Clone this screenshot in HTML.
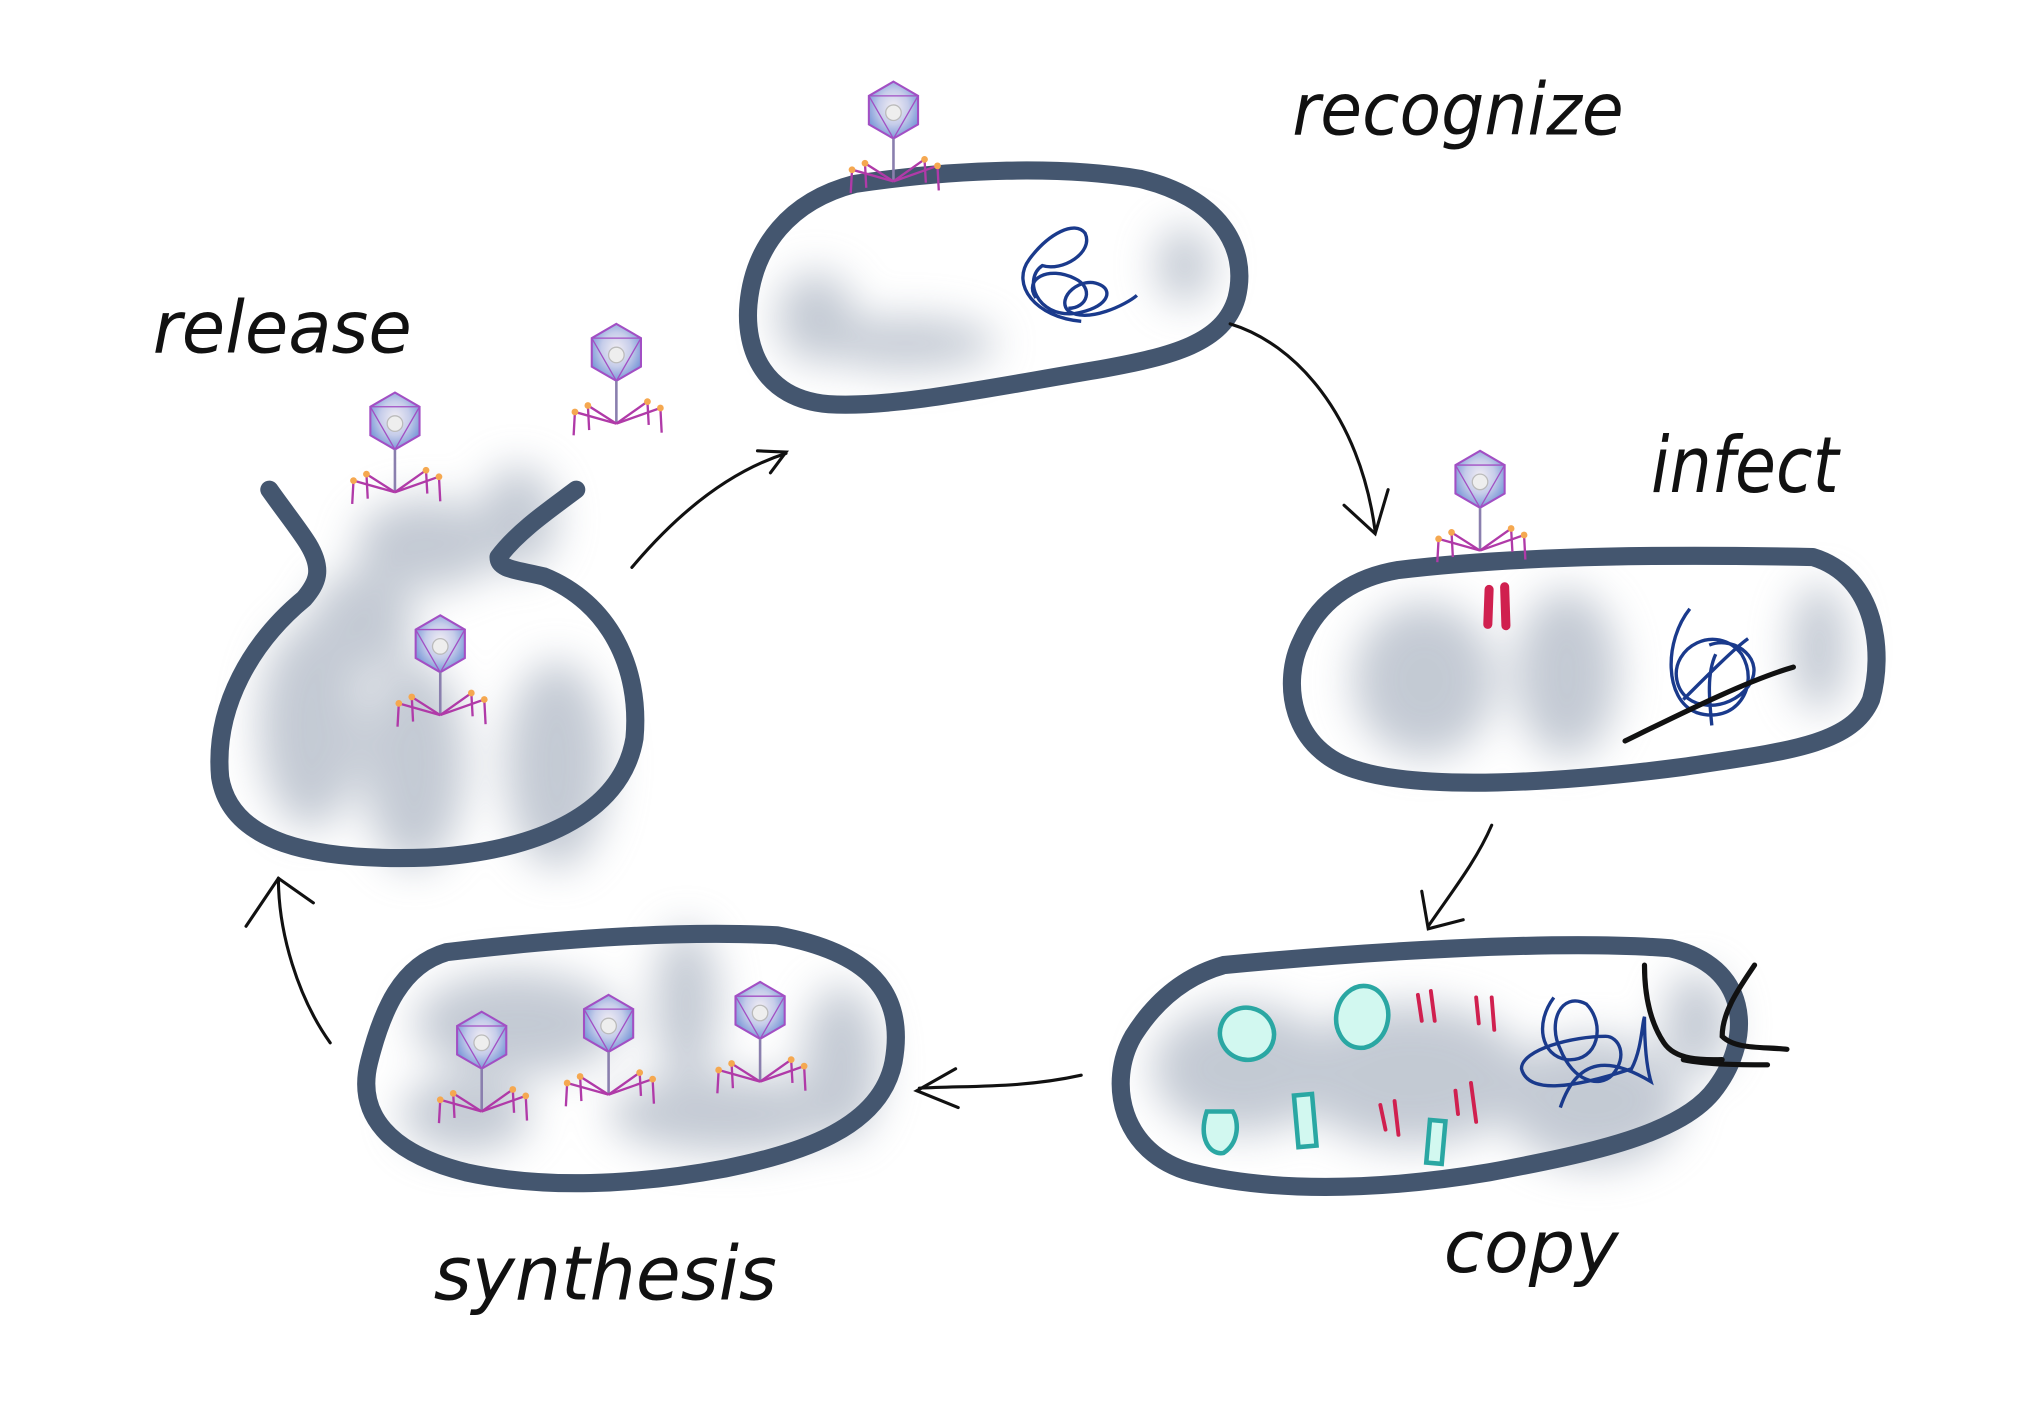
<!DOCTYPE html>
<html><head><meta charset="utf-8"><style>
html,body{margin:0;padding:0;background:#fff;}
svg{display:block;}
text{font-family:"DejaVu Sans ExtraLight","DejaVu Sans","Liberation Sans",sans-serif;font-weight:200;font-style:italic;fill:#111;}
</style></head><body>
<svg width="2020" height="1412" viewBox="0 0 1560 1090" preserveAspectRatio="none" xmlns="http://www.w3.org/2000/svg">
<defs>
<filter id="bl" x="-50%" y="-50%" width="200%" height="200%"><feGaussianBlur stdDeviation="16"/></filter>
<radialGradient id="hd" cx="50%" cy="45%" r="60%"><stop offset="0" stop-color="#f2eef4"/><stop offset="0.5" stop-color="#c6cdea"/><stop offset="1" stop-color="#6c8fd4"/></radialGradient>
<g id="ph">
<polygon points="0,-22 19,-11 19,11 0,22 -19,11 -19,-11" fill="url(#hd)" stroke="#a24fc4" stroke-width="1.6"/>
<polyline points="-19,-11 0,22 19,-11 -19,-11" fill="none" stroke="#a24fc4" stroke-width="1"/>
<circle cx="0" cy="2" r="6" fill="#eee" stroke="#bbb" stroke-width="1"/>
<line x1="0" y1="22" x2="0" y2="55" stroke="#8a7fae" stroke-width="2"/>
<g stroke="#b03aa8" stroke-width="1.8" fill="none">
<polyline points="0,55 -32,46 -33,64"/><polyline points="0,55 -22,41 -21,60"/>
<polyline points="0,55 24,38 25,56"/><polyline points="0,55 34,43 35,62"/>
</g>
<g fill="#f5a850"><circle cx="-32" cy="46" r="2.6"/><circle cx="-22" cy="41" r="2.6"/><circle cx="24" cy="38" r="2.6"/><circle cx="34" cy="43" r="2.6"/></g>
</g>
</defs>

<g fill="#a4aebd" opacity="0.65" filter="url(#bl)">
<ellipse cx="630" cy="245" rx="30" ry="35"/>
<ellipse cx="700" cy="265" rx="70" ry="20"/>
<ellipse cx="915" cy="205" rx="22" ry="30"/>
<ellipse cx="1100" cy="525" rx="55" ry="60"/>
<ellipse cx="1210" cy="520" rx="40" ry="65"/>
<ellipse cx="1405" cy="500" rx="22" ry="50"/>
<ellipse cx="960" cy="825" rx="70" ry="50"/>
<ellipse cx="1090" cy="830" rx="90" ry="55"/>
<ellipse cx="1230" cy="850" rx="70" ry="50"/>
<ellipse cx="1310" cy="790" rx="25" ry="40"/>
<ellipse cx="400" cy="790" rx="80" ry="40"/>
<ellipse cx="530" cy="775" rx="25" ry="60"/>
<ellipse cx="560" cy="860" rx="90" ry="30"/>
<ellipse cx="650" cy="820" rx="30" ry="60"/>
<ellipse cx="360" cy="860" rx="50" ry="30"/>
<ellipse cx="240" cy="560" rx="40" ry="80"/>
<ellipse cx="320" cy="590" rx="40" ry="80"/>
<ellipse cx="430" cy="590" rx="40" ry="80"/>
<ellipse cx="330" cy="420" rx="55" ry="35"/>
<ellipse cx="400" cy="400" rx="30" ry="40"/>
<ellipse cx="280" cy="480" rx="40" ry="40"/>
</g>

<g fill="none" stroke="#44566f" stroke-width="14" stroke-linecap="round" stroke-linejoin="round">
<path d="M660,142 C740,130 820,128 880,138 C940,152 965,190 955,230 C945,265 905,275 850,285 C760,300 690,315 640,312 C590,308 575,270 578,235 C582,190 610,155 660,142 Z"/>
<path d="M1080,440 C1180,428 1300,428 1400,430 C1450,445 1455,505 1445,540 C1430,575 1380,580 1300,592 C1200,605 1100,610 1050,595 C995,580 990,525 1005,495 C1020,460 1050,445 1080,440 Z"/>
<path d="M945,745 C1050,735 1200,725 1290,732 C1350,745 1355,800 1325,840 C1300,875 1230,890 1150,905 C1060,920 980,920 920,905 C865,890 855,835 875,800 C895,768 920,752 945,745 Z"/>
<path d="M345,735 C430,725 520,718 600,722 C670,735 700,765 690,820 C680,870 620,890 560,902 C490,915 420,918 360,905 C300,890 275,860 285,820 C295,780 310,745 345,735 Z"/>
<path d="M208,378 C220,395 232,410 238,420 C250,440 245,450 235,462 C195,495 165,545 170,600 C178,650 240,665 330,662 C410,658 480,630 490,570 C495,515 470,465 420,445 C400,440 385,440 385,430 C400,410 425,393 445,378"/>
</g>

<g fill="none" stroke="#1a3a8c" stroke-width="2.6">
<path d="M835,248 C800,245 780,220 795,200 C810,180 830,170 838,180 C845,195 820,210 805,205 C790,215 800,245 830,242 C855,238 860,225 850,220 C835,212 815,230 825,240 C840,250 870,235 878,228"/>
<path d="M800,230 C790,215 810,205 830,215 C845,222 840,238 825,238"/>
<path d="M1305,470 C1285,495 1285,540 1310,550 C1340,560 1360,530 1345,505 C1325,480 1290,500 1295,525 C1300,550 1335,550 1350,530 C1365,510 1340,490 1320,498 M1300,540 C1320,520 1340,500 1350,493 M1322,560 C1320,540 1318,520 1325,505"/>
<path d="M1200,770 C1185,790 1190,815 1210,818 C1235,820 1240,790 1225,775 C1205,765 1195,790 1205,810 C1215,835 1235,840 1245,830 C1258,815 1250,800 1240,800 C1215,800 1175,810 1175,825 C1180,845 1215,840 1260,825 C1268,810 1268,790 1270,785 C1270,810 1272,825 1275,835 C1250,820 1220,810 1205,855"/>
</g>
<path d="M1255,572 C1300,550 1350,525 1385,515" stroke="#111" stroke-width="4" fill="none" stroke-linecap="round"/>
<path d="M1270,745 C1270,770 1275,790 1285,805 C1295,820 1320,818 1330,818 M1355,745 C1345,760 1330,780 1330,800 C1340,810 1360,808 1380,810 M1300,818 C1320,822 1345,822 1365,822" stroke="#111" stroke-width="4" fill="none" stroke-linecap="round"/>

<g stroke="#d0204f" stroke-linecap="round" fill="none">
<line x1="1150" y1="455" x2="1149" y2="482" stroke-width="7"/><line x1="1162" y1="453" x2="1163" y2="483" stroke-width="7"/>
<g stroke-width="3">
<line x1="1095" y1="768" x2="1098" y2="788"/><line x1="1105" y1="765" x2="1108" y2="788"/>
<line x1="1140" y1="770" x2="1142" y2="790"/><line x1="1152" y1="770" x2="1154" y2="795"/>
<line x1="1066" y1="853" x2="1070" y2="872"/><line x1="1077" y1="850" x2="1080" y2="876"/>
<line x1="1124" y1="842" x2="1126" y2="860"/><line x1="1136" y1="836" x2="1140" y2="866"/>
</g></g>
<g stroke="#2aa7a3" stroke-width="3.5" fill="#d2f8f0">
<ellipse cx="963" cy="798" rx="21" ry="20" transform="rotate(20 963 798)"/>
<ellipse cx="1052" cy="785" rx="20" ry="24" transform="rotate(10 1052 785)"/>
<path d="M932,858 C925,880 935,892 945,890 C957,882 957,866 952,858 Z"/>
<rect x="1001" y="845" width="14" height="40" transform="rotate(-5 1008 865)"/>
<rect x="1103" y="865" width="12" height="33" transform="rotate(5 1109 880)"/>
</g>

<use href="#ph" x="690" y="85"/>
<use href="#ph" x="1143" y="370"/>
<use href="#ph" x="476" y="272"/>
<use href="#ph" x="305" y="325"/>
<use href="#ph" x="340" y="497"/>
<use href="#ph" x="372" y="803"/>
<use href="#ph" x="470" y="790"/>
<use href="#ph" x="587" y="780"/>

<g fill="none" stroke="#111" stroke-width="2.4" stroke-linecap="round">
<path d="M950,250 C1000,265 1050,320 1062,410"/><path d="M1038,390 L1062,412 L1072,378"/>
<path d="M1152,637 C1140,665 1120,690 1103,715"/><path d="M1098,688 L1103,717 L1130,710"/>
<path d="M835,830 C790,840 750,838 710,840"/><path d="M738,825 L708,842 L740,855"/>
<path d="M255,805 C230,770 215,720 215,678"/><path d="M190,715 L215,678 L242,697"/>
<path d="M488,438 C520,400 560,365 607,350"/><path d="M585,348 L607,349 L595,365"/>
</g>

<text x="998" y="104" font-size="56" textLength="256" lengthAdjust="spacingAndGlyphs">recognize</text>
<text x="118" y="272" font-size="56" textLength="200" lengthAdjust="spacingAndGlyphs">release</text>
<text x="1275" y="380" font-size="60" textLength="145" lengthAdjust="spacingAndGlyphs">infect</text>
<text x="1115" y="982" font-size="56" textLength="135" lengthAdjust="spacingAndGlyphs">copy</text>
<text x="335" y="1003" font-size="58" textLength="265" lengthAdjust="spacingAndGlyphs">synthesis</text>
</svg>
</body></html>
